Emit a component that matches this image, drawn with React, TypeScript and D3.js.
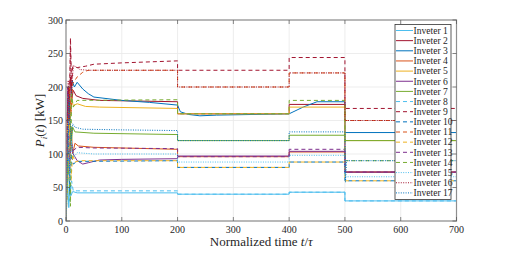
import React from 'react';
import * as d3 from 'd3';

type Pt = [number, number];

// valores: [t/tau, P (kW)]
const inv1: Pt[] = [[0, 0], [3, 60], [5, 20], [7, 55], [9, 38], [12, 44], [20, 42], [200, 42], [200, 40], [400, 40], [400, 43], [500, 43], [500, 30], [700, 30]];
const inv2: Pt[] = [[0, 0], [2, 150], [4, 200], [6, 170], [8, 215], [10, 180], [13, 195], [18, 187], [30, 183], [60, 180], [200, 178], [200, 160], [400, 160], [400, 174], [500, 174], [500, 73], [700, 73]];
const inv3: Pt[] = [[0, 0], [3, 120], [5, 190], [8, 170], [11, 210], [15, 200], [20, 207], [30, 197], [40, 190], [50, 185], [100, 180], [150, 177], [200, 173], [205, 163], [220, 159], [240, 157], [270, 158], [400, 160], [425, 170], [450, 178], [500, 178], [500, 132], [700, 132]];
const inv4: Pt[] = [[0, 0], [3, 160], [6, 60], [9, 140], [12, 100], [16, 116], [22, 112], [50, 110], [200, 107], [200, 96], [400, 96], [400, 103], [500, 103], [500, 73], [700, 73]];
const inv5: Pt[] = [[0, 0], [3, 150], [6, 100], [9, 185], [13, 172], [20, 175], [35, 171], [60, 170], [200, 168], [200, 160], [400, 160], [400, 170], [500, 170], [500, 120], [700, 120]];
const inv6: Pt[] = [[0, 0], [3, 130], [6, 70], [9, 115], [13, 100], [20, 90], [30, 85], [40, 87], [60, 91], [100, 92], [200, 93], [200, 97], [400, 97], [400, 104], [500, 104], [500, 73], [700, 73]];
const inv7: Pt[] = [[0, 0], [3, 80], [6, 180], [9, 110], [12, 140], [16, 133], [50, 131], [200, 129], [200, 120], [400, 120], [400, 128], [500, 128], [500, 120], [700, 120]];
const inv8: Pt[] = [[0, 0], [4, 100], [7, 30], [10, 60], [13, 45], [20, 45], [200, 45], [200, 40], [400, 40], [400, 43], [500, 43], [500, 30], [700, 30]];
const inv9: Pt[] = [[0, 0], [3, 180], [5, 120], [8, 273], [10, 200], [12, 230], [20, 229], [35, 231], [50, 234], [100, 236], [200, 239], [200, 225], [400, 225], [400, 244], [500, 244], [500, 168], [700, 168]];
const inv10: Pt[] = [[0, 0], [4, 140], [7, 40], [10, 100], [13, 85], [20, 89], [200, 90], [200, 80], [400, 80], [400, 88], [500, 88], [500, 60], [700, 60]];
const inv11: Pt[] = [[0, 0], [3, 100], [6, 200], [9, 160], [12, 205], [20, 215], [30, 222], [40, 225], [200, 225], [200, 200], [400, 200], [400, 221], [500, 221], [500, 150], [700, 150]];
const inv12: Pt[] = [[0, 0], [3, 60], [6, 150], [9, 60], [12, 100], [16, 88], [25, 90], [200, 90], [200, 80], [400, 80], [400, 88], [500, 88], [500, 60], [700, 60]];
const inv13: Pt[] = [[0, 0], [3, 200], [6, 90], [9, 120], [13, 105], [20, 110], [50, 109], [200, 108], [200, 96], [400, 96], [400, 107], [500, 107], [500, 73], [700, 73]];
const inv14: Pt[] = [[0, 0], [3, 90], [6, 60], [8, 22], [10, 190], [13, 170], [20, 180], [200, 181], [200, 160], [400, 160], [400, 180], [500, 180], [500, 90], [700, 90]];
const inv15: Pt[] = [[0, 0], [4, 150], [7, 60], [10, 120], [14, 95], [20, 102], [50, 100], [200, 100], [200, 88], [400, 88], [400, 98], [500, 98], [500, 66], [700, 66]];
const inv16: Pt[] = [[0, 0], [2, 120], [4, 210], [6, 150], [8, 260], [10, 190], [13, 232], [18, 230], [25, 226], [40, 225], [200, 225], [200, 200], [400, 200], [400, 221], [500, 221], [500, 150], [700, 150]];
const inv17: Pt[] = [[0, 0], [3, 100], [6, 180], [9, 120], [12, 145], [16, 140], [30, 137], [100, 136], [200, 135], [200, 120], [400, 120], [400, 133], [500, 133], [501, 58], [503, 90], [700, 90]];

const seriesData = [inv1, inv2, inv3, inv4, inv5, inv6, inv7, inv8, inv9, inv10, inv11, inv12, inv13, inv14, inv15, inv16, inv17];
const labels = seriesData.map((_, i) => `Inveter ${i + 1}`);

const xTicks = [0, 100, 200, 300, 400, 500, 600, 700];
const yTicks = [0, 50, 100, 150, 200, 250, 300];

// colores por defecto de MATLAB
const palette = ['#4DBEEE', '#A2142F', '#0072BD', '#D95319', '#EDB120', '#7E2F8E', '#77AC30'];
const dashFor = (i: number) => (i < 7 ? '' : i < 14 ? '4,3' : '1,1.4');

const W = 507;
const H = 265;
const left = 66, right = 456.5, top = 20, bottom = 221;
const txt: React.CSSProperties = { fontFamily: "'Liberation Serif', 'DejaVu Serif', serif" };

export default function App() {
  const x = d3.scaleLinear().domain([0, 700]).range([left, right]);
  const y = d3.scaleLinear().domain([0, 300]).range([bottom, top]);
  const line = d3.line<Pt>().x(d => x(d[0])).y(d => y(d[1]));

  const legX = 395, legY = 24.5, legW = 56, rowH = 10.15;
  const legH = rowH * labels.length + 2.5;

  return (
    <svg width={W} height={H} style={{ position: 'absolute', left: 0, top: 0, background: '#fff' }}>
      <defs>
        <clipPath id="plot">
          <rect x={left} y={top} width={right - left} height={bottom - top} />
        </clipPath>
      </defs>
      {/* rejilla */}
      {xTicks.map(t => (
        <line key={'gx' + t} x1={x(t)} x2={x(t)} y1={top} y2={bottom} stroke="#e8e8e8" strokeWidth={0.8} />
      ))}
      {yTicks.map(t => (
        <line key={'gy' + t} x1={left} x2={right} y1={y(t)} y2={y(t)} stroke="#e8e8e8" strokeWidth={0.8} />
      ))}
      {/* series */}
      <g clipPath="url(#plot)" fill="none">
        {seriesData.map((d, i) => (
          <path key={i} d={line(d) || ''} stroke={palette[i % 7]} strokeWidth={1}
            strokeDasharray={dashFor(i)} />
        ))}
      </g>
      {/* caja y marcas */}
      <rect x={left} y={top} width={right - left} height={bottom - top} fill="none" stroke="#8f8f8f" strokeWidth={1.2} />
      {xTicks.map(t => (
        <g key={'tx' + t}>
          <line x1={x(t)} x2={x(t)} y1={bottom} y2={bottom - 4} stroke="#555" strokeWidth={0.7} />
          <line x1={x(t)} x2={x(t)} y1={top} y2={top + 4} stroke="#555" strokeWidth={0.7} />
          <text x={x(t)} y={bottom + 12} textAnchor="middle" style={txt} fontSize={10} fill="#262626">{t}</text>
        </g>
      ))}
      {yTicks.map(t => (
        <g key={'ty' + t}>
          <line x1={left} x2={left + 4} y1={y(t)} y2={y(t)} stroke="#555" strokeWidth={0.7} />
          <line x1={right} x2={right - 4} y1={y(t)} y2={y(t)} stroke="#555" strokeWidth={0.7} />
          <text x={left - 3} y={y(t) + 3.5} textAnchor="end" style={txt} fontSize={10} fill="#262626">{t}</text>
        </g>
      ))}
      {/* etiquetas de ejes */}
      <text x={(left + right) / 2} y={246} textAnchor="middle" style={txt} fontSize={13} fill="#262626">
        Normalized time <tspan fontStyle="italic">t</tspan>/<tspan fontStyle="italic">τ</tspan>
      </text>
      <text transform={`translate(44,${(top + bottom) / 2}) rotate(-90)`} textAnchor="middle" style={txt} fontSize={13} fill="#262626">
        <tspan fontStyle="italic">P</tspan><tspan fontStyle="italic" fontSize={9} dy={3}>i</tspan><tspan dy={-3}>(</tspan><tspan fontStyle="italic">t</tspan>) [kW]
      </text>
      {/* leyenda */}
      <rect x={legX} y={legY} width={legW} height={legH} fill="#fff" stroke="#333" strokeWidth={0.8} />
      {labels.map((lab, i) => {
        const cy = legY + 6 + i * rowH;
        return (
          <g key={lab}>
            <line x1={legX + 1} x2={legX + 18} y1={cy} y2={cy} stroke={palette[i % 7]} strokeWidth={1}
              strokeDasharray={dashFor(i)} />
            <text x={legX + 18.5} y={cy + 3.3} style={txt} fontSize={9.6} fill="#262626">{lab}</text>
          </g>
        );
      })}
    </svg>
  );
}
